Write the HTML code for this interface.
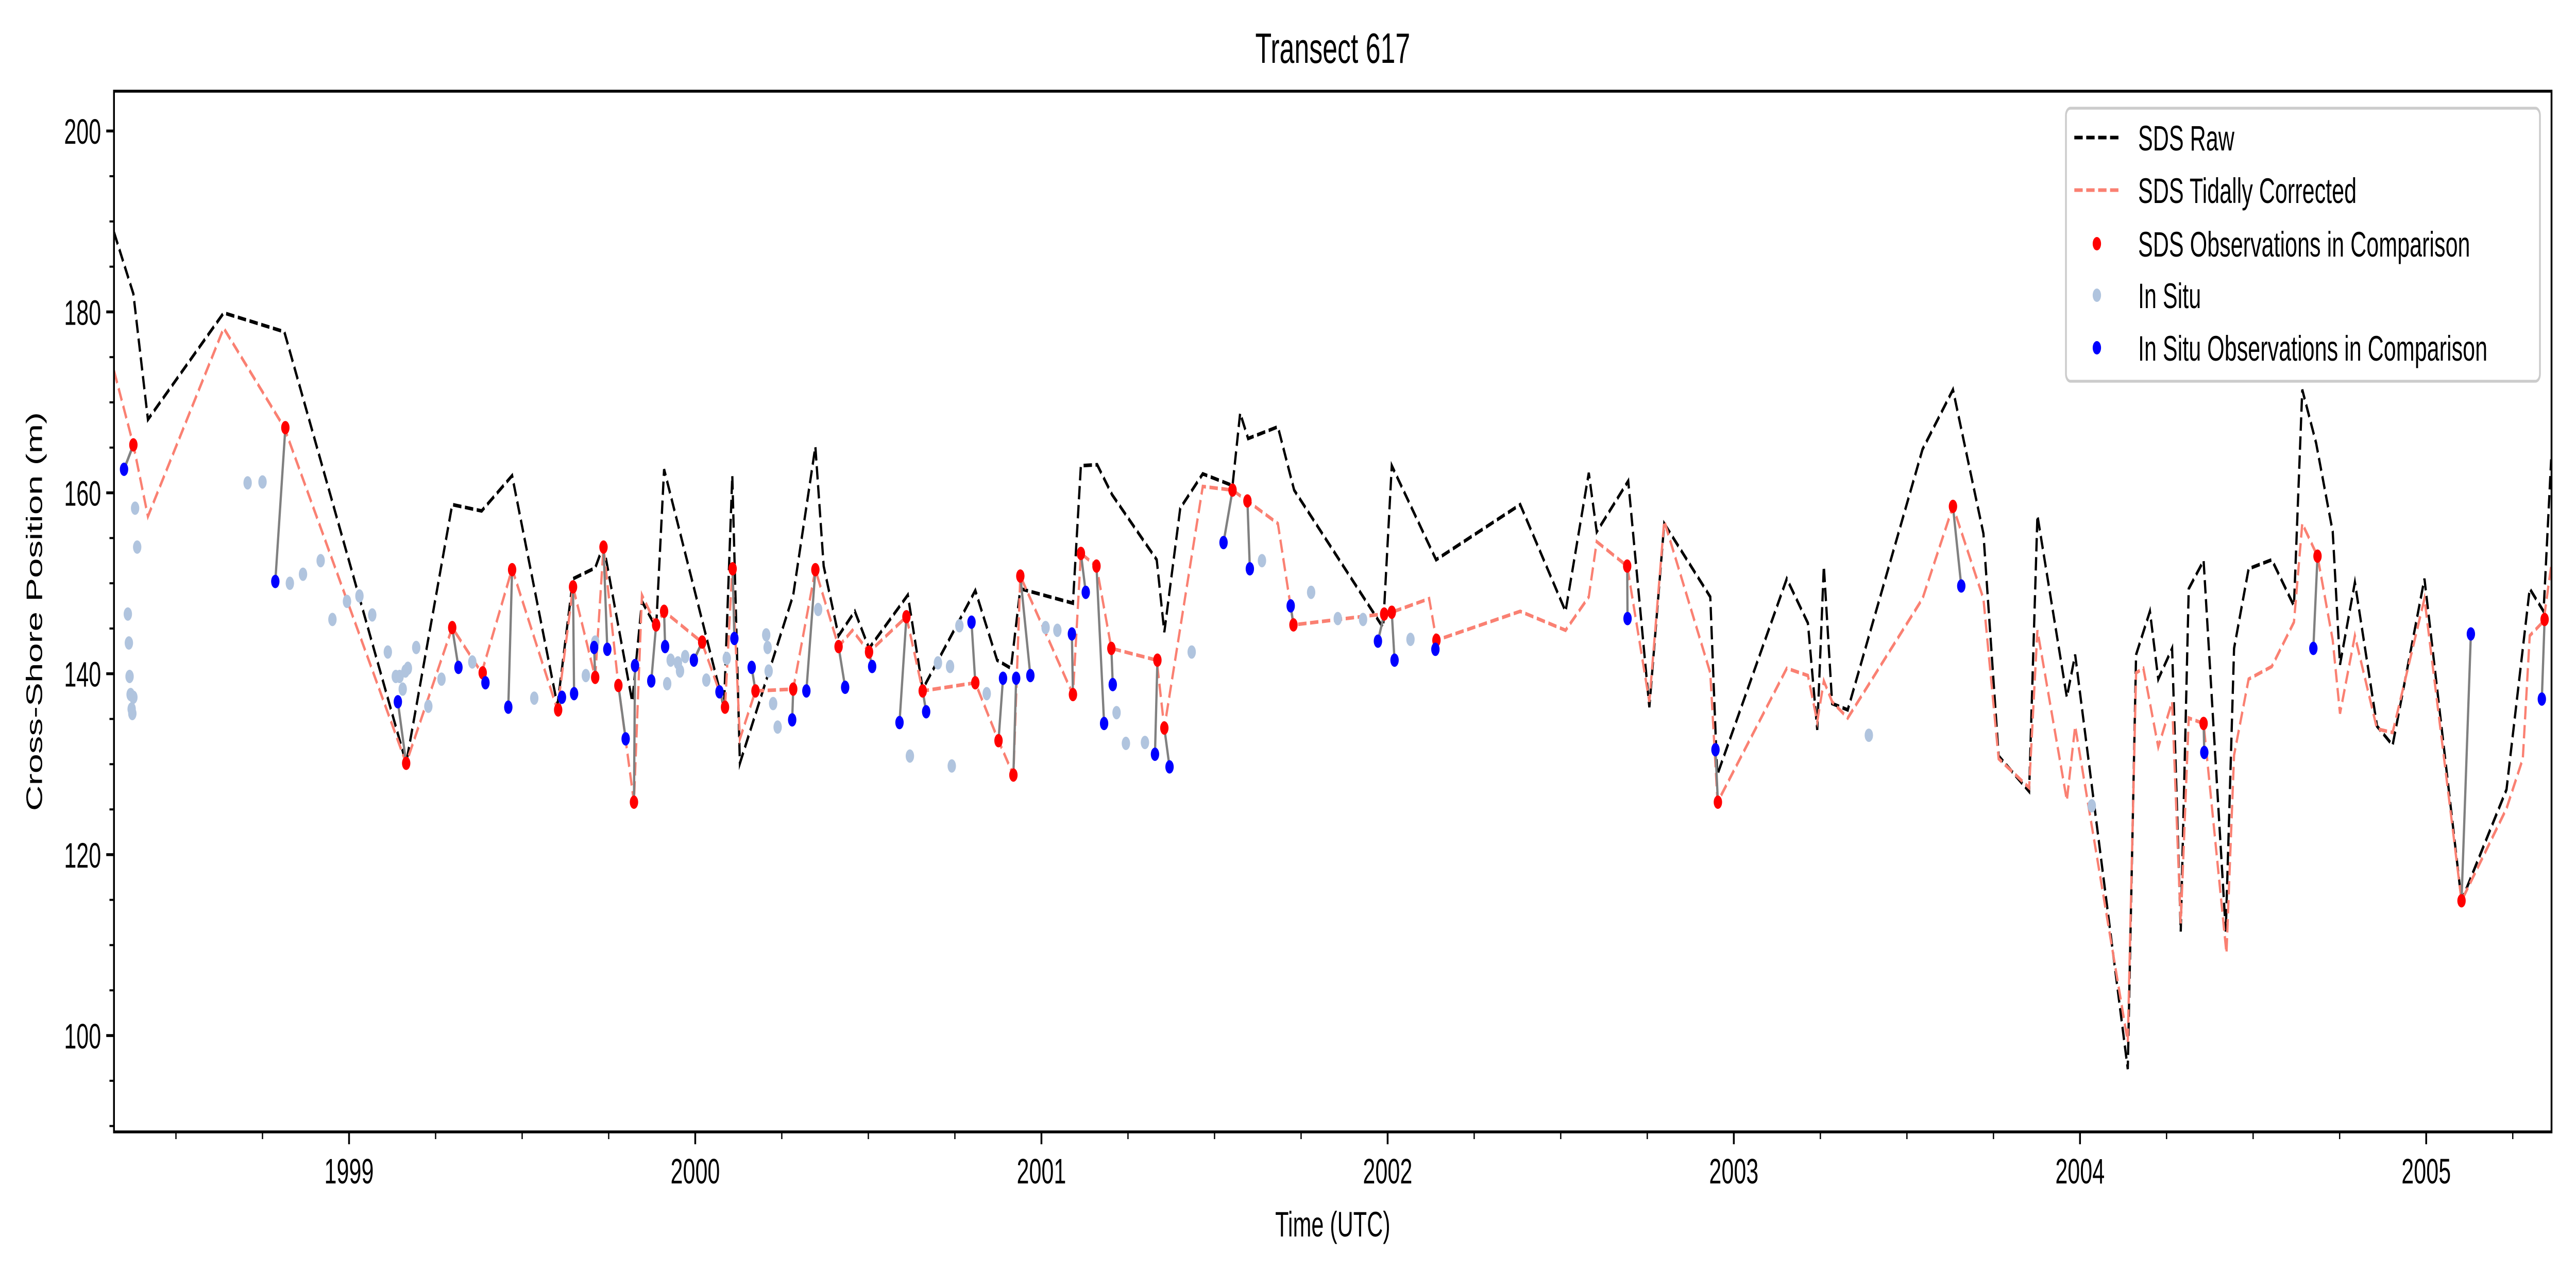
<!DOCTYPE html>
<html><head><meta charset="utf-8"><style>
html,body{margin:0;padding:0;background:#fff;width:100%;height:100%;overflow:hidden;}
svg{display:block;width:100vw;height:100vh;font-family:"Liberation Sans","DejaVu Sans",sans-serif;}
</style></head>
<body>
<svg id="chart" xmlns="http://www.w3.org/2000/svg" viewBox="0 0 8000 2500" preserveAspectRatio="none">
<rect x="0" y="0" width="8000" height="2500" fill="#fff"/>
<text x="4139" y="122" font-size="83" text-anchor="middle">Transect 617</text>
<g id="series"></g>
<rect x="354" y="177" width="7570" height="2020" fill="none" stroke="#000" stroke-width="5.6"/>
<g id="axes"></g>
<text x="4139" y="2400" font-size="69" text-anchor="middle">Time (UTC)</text>
<text transform="translate(130,1187) rotate(-90)" font-size="69" text-anchor="middle">Cross-Shore Position (m)</text>
<g id="legend">
<rect x="6416" y="210" width="1472" height="530" rx="14" fill="#fff" fill-opacity="0.8" stroke="#ccc" stroke-width="5.6"/>
<line x1="6442" y1="267" x2="6580" y2="267" stroke="#000" stroke-width="7" stroke-dasharray="26 11"/>
<text x="6640" y="292" font-size="69">SDS Raw</text>
<line x1="6442" y1="369" x2="6580" y2="369" stroke="#fa8072" stroke-width="7" stroke-dasharray="26 11"/>
<text x="6640" y="394" font-size="69">SDS Tidally Corrected</text>
<circle cx="6512" cy="473" r="13" fill="#ff0000"/>
<text x="6640" y="498" font-size="69">SDS Observations in Comparison</text>
<circle cx="6512" cy="573" r="13" fill="#b0c4de"/>
<text x="6640" y="598" font-size="69">In Situ</text>
<circle cx="6512" cy="675" r="13" fill="#0000ff"/>
<text x="6640" y="700" font-size="69">In Situ Observations in Comparison</text>
</g>
</svg>
<script>
// ---- data (time as fractional year, value in m) ----
const rawT = [1998.321,1998.377,1998.419,1998.638,1998.813,1999.165,1999.298,1999.383,1999.471,1999.602,1999.647,1999.711,1999.735,1999.818,1999.846,1999.887,1999.910,2000.083,2000.107,2000.129,2000.283,2000.347,2000.371,2000.414,2000.461,2000.502,2000.614,2000.657,2000.809,2000.872,2000.912,2000.939,2001.091,2001.114,2001.161,2001.204,2001.333,2001.355,2001.401,2001.466,2001.552,2001.574,2001.597,2001.683,2001.730,2001.987,2002.012,2002.140,2002.383,2002.514,2002.581,2002.604,2002.695,2002.756,2002.799,2002.932,2002.952,2003.153,2003.214,2003.241,2003.260,2003.284,2003.329,2003.545,2003.633,2003.721,2003.765,2003.853,2003.877,2003.962,2003.986,2004.138,2004.162,2004.202,2004.226,2004.266,2004.291,2004.314,2004.357,2004.421,2004.445,2004.487,2004.554,2004.618,2004.642,2004.682,2004.730,2004.751,2004.794,2004.858,2004.903,2004.995,2005.102,2005.232,2005.299,2005.339,2005.361];
const rawV = [188.8,182.0,168.1,179.9,177.8,130.1,158.7,158.0,161.9,136.5,150.5,151.7,154.2,136.9,148.0,145.1,162.6,136.3,161.9,130.1,148.7,165.1,151.9,144.2,146.9,142.8,148.7,138.3,149.2,141.5,140.6,149.4,147.8,163.0,163.1,159.8,152.6,144.6,158.3,162.1,160.8,168.8,166.0,167.3,160.3,145.1,163.0,152.6,158.7,146.9,162.2,155.7,161.3,136.3,156.6,148.5,128.8,150.5,145.6,133.8,151.9,136.7,136.0,164.8,171.4,155.5,130.9,127.0,157.5,137.4,142.1,96.3,142.1,146.9,139.4,142.8,111.5,149.4,152.5,111.5,142.8,151.6,152.6,147.5,171.4,165.5,155.7,141.0,150.1,134.2,132.1,150.5,114.9,127.2,149.4,146.9,163.7];
const corT = [1998.321,1998.377,1998.419,1998.638,1998.813,1999.165,1999.298,1999.383,1999.471,1999.602,1999.647,1999.711,1999.735,1999.778,1999.823,1999.846,1999.887,1999.910,2000.019,2000.086,2000.107,2000.129,2000.174,2000.283,2000.347,2000.414,2000.454,2000.502,2000.610,2000.657,2000.809,2000.876,2000.919,2000.939,2001.091,2001.114,2001.159,2001.202,2001.333,2001.355,2001.466,2001.552,2001.595,2001.683,2001.728,2001.987,2002.012,2002.120,2002.141,2002.383,2002.514,2002.581,2002.604,2002.692,2002.756,2002.799,2002.932,2002.953,2003.153,2003.214,2003.241,2003.260,2003.284,2003.329,2003.545,2003.633,2003.721,2003.765,2003.853,2003.877,2003.962,2003.986,2004.138,2004.162,2004.183,2004.226,2004.266,2004.291,2004.314,2004.357,2004.423,2004.445,2004.487,2004.554,2004.618,2004.642,2004.686,2004.730,2004.751,2004.794,2004.858,2004.903,2004.995,2005.102,2005.232,2005.279,2005.299,2005.339,2005.361];
const corV = [173.5,165.3,157.4,178.2,167.2,130.1,145.1,140.1,151.6,136.0,149.6,139.6,154.0,138.7,125.8,148.7,145.4,146.9,143.5,136.3,151.6,132.8,138.1,138.3,151.5,143.0,144.8,142.4,146.3,138.1,139.0,132.6,128.8,150.8,137.7,153.3,151.9,142.8,141.5,134.0,160.7,160.3,159.1,156.6,145.4,146.6,146.8,148.3,143.7,146.9,144.8,148.5,154.6,151.9,136.9,156.9,140.1,125.8,140.6,139.8,134.7,139.2,136.9,135.1,148.3,158.5,148.3,130.6,127.4,144.8,126.0,134.2,99.3,140.1,140.6,131.9,136.9,112.4,135.1,134.5,109.1,131.0,139.4,140.8,145.7,156.6,153.0,143.7,135.6,144.2,133.9,133.5,148.3,114.9,125.1,130.6,144.2,145.8,151.9];
const sdsObsT = [1998.377,1998.816,1999.165,1999.298,1999.386,1999.471,1999.604,1999.647,1999.711,1999.735,1999.778,1999.823,1999.887,1999.910,2000.020,2000.086,2000.108,2000.174,2000.283,2000.347,2000.414,2000.502,2000.610,2000.657,2000.809,2000.876,2000.919,2000.939,2001.091,2001.114,2001.159,2001.202,2001.335,2001.355,2001.552,2001.595,2001.728,2001.990,2002.012,2002.141,2002.692,2002.954,2003.633,2004.357,2004.686,2005.102,2005.342];
const sdsObsV = [165.3,167.2,130.1,145.1,140.1,151.5,136.0,149.6,139.6,154.0,138.7,125.8,145.4,146.9,143.5,136.3,151.6,138.1,138.3,151.5,143.0,142.4,146.3,138.1,139.0,132.6,128.8,150.8,137.7,153.3,151.9,142.8,141.5,134.0,160.3,159.1,145.4,146.6,146.8,143.7,151.9,125.8,158.5,134.5,153.0,114.9,146.0];
const insituObsT = [1998.350,1998.787,1999.141,1999.316,1999.394,1999.460,1999.615,1999.650,1999.708,1999.746,1999.799,1999.826,1999.873,1999.913,1999.996,2000.070,2000.113,2000.163,2000.280,2000.321,2000.433,2000.511,2000.590,2000.667,2000.798,2000.889,2000.927,2000.968,2001.088,2001.128,2001.181,2001.206,2001.328,2001.370,2001.526,2001.602,2001.720,2001.972,2002.020,2002.138,2002.693,2002.947,2003.657,2004.359,2004.674,2005.129,2005.334];
const insituObsV = [162.6,150.2,136.9,140.7,139.0,136.3,137.4,137.8,142.9,142.7,132.8,140.9,139.2,143.0,141.5,138.0,143.9,140.7,134.9,138.1,138.5,140.8,134.6,135.8,145.7,139.5,139.5,139.8,144.4,149.0,134.5,138.8,131.1,129.7,154.5,151.6,147.5,143.6,141.5,142.7,146.1,131.6,149.7,131.3,142.8,144.4,137.2];
const insituT = [1998.361,1998.364,1998.366,1998.369,1998.372,1998.374,1998.377,1998.382,1998.388,1998.707,1998.750,1998.829,1998.867,1998.918,1998.952,1998.994,1999.030,1999.067,1999.112,1999.135,1999.146,1999.155,1999.163,1999.170,1999.194,1999.229,1999.267,1999.356,1999.535,1999.684,1999.711,1999.919,1999.929,1999.950,1999.956,1999.971,2000.032,2000.091,2000.205,2000.209,2000.212,2000.225,2000.238,2000.355,2000.620,2000.701,2000.736,2000.741,2000.763,2000.842,2001.012,2001.046,2001.217,2001.244,2001.299,2001.434,2001.637,2001.779,2001.856,2001.929,2002.066,2003.390,2004.034];
const insituV = [146.6,143.4,139.7,137.7,136.1,135.6,137.4,158.3,154.0,161.1,161.2,150.0,151.0,152.5,146.0,148.0,148.6,146.5,142.4,139.7,139.7,138.3,140.3,140.6,142.9,136.4,139.4,141.3,137.3,139.8,143.5,138.9,141.5,141.2,140.3,141.9,139.3,141.7,144.3,142.9,140.3,136.7,134.1,147.1,130.9,141.2,140.8,129.8,145.3,137.8,145.1,144.8,135.7,132.3,132.4,142.4,152.5,149.0,146.1,146.0,143.8,133.2,125.4];
const xTickYears = [1999,2000,2001,2002,2003,2004,2005];
const xTickLabels = ["1999","2000","2001","2002","2003","2004","2005"];
const yTickVals = [100,120,140,160,180,200];
const yTickLabels = ["100","120","140","160","180","200"];

// ---- axis functions ----
const X0=354, X1=7924, Y0=177, Y1=2197;
const xMin=1998.321, xMax=2005.362, yMin=89.35, yMax=204.4;
function sx(t){return X0+(t-xMin)/(xMax-xMin)*(X1-X0);}
function sy(v){return Y1-(v-yMin)/(yMax-yMin)*(Y1-Y0);}
const NS="http://www.w3.org/2000/svg";
function mk(tag,attrs,parent){const e=document.createElementNS(NS,tag);for(const k in attrs)e.setAttribute(k,attrs[k]);parent.appendChild(e);return e;}
const axes=document.getElementById('axes'), series=document.getElementById('series');

for(let y=1998;y<=2005;y++){for(let q=0;q<4;q++){const t=y+q/4;if(t<xMin||t>xMax)continue;
  const major=(q===0);const px=sx(t);
  const tk=mk('line',{x1:px,y1:Y1,x2:px,y2:Y1+(major?24:14),stroke:'#000','stroke-width':major?5.6:4},axes);
  
  
}}
xTickYears.forEach((yr,i)=>{const tx=mk('text',{x:sx(yr),y:Y1+100,'font-size':69,'text-anchor':'middle'},axes);tx.textContent=xTickLabels[i];
  
  
});
for(let v=90;v<=200;v+=5){const major=(v%20===0);const py=sy(v);
  const tk=mk('line',{x1:X0,y1:py,x2:X0-(major?24:14),y2:py,stroke:'#000','stroke-width':major?5.6:4},axes);
  
  
}
yTickVals.forEach((v,i)=>{const tx=mk('text',{x:X0-40,y:sy(v)+25,'font-size':69,'text-anchor':'end'},axes);tx.textContent=yTickLabels[i];
  
  
});

const defs=mk('defs',{},series);const cp=mk('clipPath',{id:'pc'},defs);mk('rect',{x:X0,y:Y0,width:X1-X0,height:Y1-Y0},cp);
const g=mk('g',{'clip-path':'url(#pc)'},series);



function pts(T,V){return T.map((t,i)=>sx(t).toFixed(1)+','+sy(V[i]).toFixed(1)).join(' ');}
const raw=mk('polyline',{points:pts(rawT,rawV),fill:'none',stroke:'#000','stroke-width':7,'stroke-dasharray':'26 11'},g);


const cor=mk('polyline',{points:pts(corT,corV),fill:'none',stroke:'#fa8072','stroke-width':7,'stroke-dasharray':'26 11'},g);



insituT.forEach((t,i)=>{const c=mk('circle',{cx:sx(t),cy:sy(insituV[i]),r:13,fill:'#b0c4de'},g);
  
  
});
sdsObsT.forEach((t,i)=>{const l=mk('line',{x1:sx(t),y1:sy(sdsObsV[i]),x2:sx(insituObsT[i]),y2:sy(insituObsV[i]),stroke:'#808080','stroke-width':7},g);
  
  
});
sdsObsT.forEach((t,i)=>{const c=mk('circle',{cx:sx(t),cy:sy(sdsObsV[i]),r:13,fill:'#ff0000'},g);
  
  
});
insituObsT.forEach((t,i)=>{const c=mk('circle',{cx:sx(t),cy:sy(insituObsV[i]),r:13,fill:'#0000ff'},g);
  
  
});
</script>
</body></html>
